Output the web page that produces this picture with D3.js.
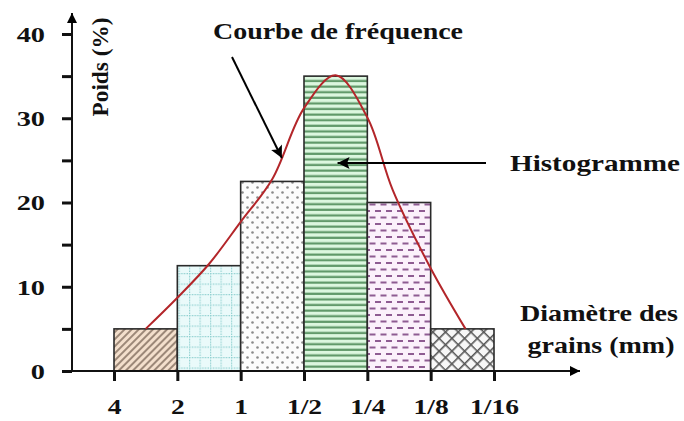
<!DOCTYPE html>
<html>
<head>
<meta charset="utf-8">
<script src="https://cdn.jsdelivr.net/npm/d3@7"></script>
<style>
  body { margin: 0; background: #fff; }
  svg text { font-family: "Liberation Serif", "DejaVu Serif", serif; font-weight: bold; fill: #111; }
</style>
</head>
<body>
<svg width="684" height="421"></svg>
<script>
// classes of grain size (tick labels) and weight % per class
var tickLabels = ["4", "2", "1", "1/2", "1/4", "1/8", "1/16"];
var barValues = [5, 12.5, 22.5, 35, 20, 5];
var barPatterns = ["hatch", "grid", "dots", "stripes", "dashes", "cross"];
var yTicks = [0, 5, 10, 15, 20, 25, 30, 35, 40];

// frequency curve points: position on the class axis, weight %
var curvePos = [0.5, 1.0, 1.5, 2.0, 2.5, 3.0, 3.5, 4.0, 4.4, 5.0, 5.55];
var curveVal = [5, 8.7, 12.7, 17.7, 22.8, 31.2, 35.1, 30.1, 21.5, 12.2, 5];

var svg = d3.select("svg");

var xScale = d3.scaleLinear()
    .domain([0, 6])
    .range([114, 494]);

var yScale = d3.scaleLinear()
    .domain([0, 40])
    .range([371, 34]);

var defs = svg.append("defs");

// patterns for the bars
var p;
p = defs.append("pattern").attr("id", "hatch").attr("patternUnits", "userSpaceOnUse")
    .attr("width", 5).attr("height", 5).attr("patternTransform", "rotate(45)");
p.append("rect").attr("width", 5).attr("height", 5).attr("fill", "#f3dfcc");
p.append("rect").attr("width", 2).attr("height", 5).attr("fill", "#9c8878");

p = defs.append("pattern").attr("id", "grid").attr("patternUnits", "userSpaceOnUse")
    .attr("width", 10.5).attr("height", 10.5);
p.append("rect").attr("width", 10.5).attr("height", 10.5).attr("fill", "#eafafa");
p.append("path").attr("d", "M0,0.5H10.5M0.5,0V10.5")
    .attr("stroke", "#8fd0d0").attr("stroke-width", 1.3).attr("stroke-dasharray", "1.5,1.2");

p = defs.append("pattern").attr("id", "dots").attr("patternUnits", "userSpaceOnUse")
    .attr("width", 10).attr("height", 10);
p.append("rect").attr("width", 10).attr("height", 10).attr("fill", "#fcfcfc");
p.append("circle").attr("cx", 2.5).attr("cy", 2.5).attr("r", 1.3).attr("fill", "#8a8a8a");
p.append("circle").attr("cx", 7.5).attr("cy", 7.5).attr("r", 1.3).attr("fill", "#8a8a8a");

p = defs.append("pattern").attr("id", "stripes").attr("patternUnits", "userSpaceOnUse")
    .attr("width", 6).attr("height", 5.6);
p.append("rect").attr("width", 6).attr("height", 5.6).attr("fill", "#dcf7df");
p.append("rect").attr("y", 1.5).attr("width", 6).attr("height", 2.2).attr("fill", "#5f9868");

p = defs.append("pattern").attr("id", "dashes").attr("patternUnits", "userSpaceOnUse")
    .attr("width", 11).attr("height", 13);
p.append("rect").attr("width", 11).attr("height", 13).attr("fill", "#fbf1fb");
p.append("rect").attr("x", 1).attr("y", 2).attr("width", 6).attr("height", 2).attr("fill", "#8e5c92");
p.append("rect").attr("x", 6.5).attr("y", 8.5).attr("width", 6).attr("height", 2).attr("fill", "#8e5c92");
p.append("rect").attr("x", -4.5).attr("y", 8.5).attr("width", 6).attr("height", 2).attr("fill", "#8e5c92");

p = defs.append("pattern").attr("id", "cross").attr("patternUnits", "userSpaceOnUse")
    .attr("width", 9).attr("height", 9).attr("patternTransform", "rotate(45)");
p.append("rect").attr("width", 9).attr("height", 9).attr("fill", "#f7f7f7");
p.append("path").attr("d", "M0,0.8H9M0.8,0V9").attr("stroke", "#555").attr("stroke-width", 1.6);

// arrow heads
defs.append("marker").attr("id", "arrow").attr("viewBox", "0 0 10 10")
    .attr("refX", 10).attr("refY", 5).attr("markerWidth", 10).attr("markerHeight", 10)
    .attr("markerUnits", "userSpaceOnUse").attr("orient", "auto")
    .append("path").attr("d", "M0,0L10,5L0,10Z").attr("fill", "#000");
defs.append("marker").attr("id", "arrowBig").attr("viewBox", "0 0 10 10")
    .attr("refX", 10).attr("refY", 5).attr("markerWidth", 14).attr("markerHeight", 12)
    .attr("markerUnits", "userSpaceOnUse").attr("orient", "auto")
    .append("path").attr("d", "M0,0L10,5L0,10L2,5Z").attr("fill", "#000");

// bars
svg.selectAll("rect.bar")
    .data(barValues)
    .enter()
    .append("rect")
    .attr("class", "bar")
    .attr("x", function(d, i) { return xScale(i); })
    .attr("y", function(d) { return yScale(d); })
    .attr("width", function(d, i) { return xScale(i + 1) - xScale(i); })
    .attr("height", function(d) { return yScale(0) - yScale(d); })
    .attr("fill", function(d, i) { return "url(#" + barPatterns[i] + ")"; })
    .attr("stroke", "#2a2a2a")
    .attr("stroke-width", 1.6);

// frequency curve
var curveData = curvePos.map(function(d, i) { return [d, curveVal[i]]; });
var line = d3.line()
    .x(function(d) { return xScale(d[0]); })
    .y(function(d) { return yScale(d[1]); })
    .curve(d3.curveCatmullRom.alpha(0.5));
svg.append("path")
    .datum(curveData)
    .attr("d", line)
    .attr("fill", "none")
    .attr("stroke", "#b3262a")
    .attr("stroke-width", 2);

// y axis
var yStretch = 1.35;
var yAxis = d3.axisLeft(yScale)
    .tickValues(yTicks)
    .tickSize(10)
    .tickPadding(17)
    .tickFormat(function(d) { return d % 10 == 0 ? d : ""; });
var gy = svg.append("g").attr("transform", "translate(72,0)").call(yAxis);
gy.select(".domain").remove();
gy.selectAll(".tick line").attr("stroke", "#111").attr("stroke-width", 3);
gy.selectAll(".tick text")
    .style("font-size", "21px")
    .attr("dy", "0.35em")
    .attr("x", -27 / yStretch)
    .attr("transform", "scale(" + yStretch + ",1)");

svg.append("line")
    .attr("x1", 72).attr("y1", yScale(0) + 1)
    .attr("x2", 72).attr("y2", 13)
    .attr("stroke", "#111").attr("stroke-width", 2)
    .attr("marker-end", "url(#arrow)");

// x axis
var xAxis = d3.axisBottom(xScale)
    .tickValues(d3.range(tickLabels.length))
    .tickSize(10)
    .tickPadding(17)
    .tickFormat(function(d) { return tickLabels[d]; });
var gx = svg.append("g").attr("transform", "translate(0," + yScale(0) + ")").call(xAxis);
gx.select(".domain").remove();
gx.selectAll(".tick line").attr("stroke", "#111").attr("stroke-width", 3);
gx.selectAll(".tick text")
    .style("font-size", "22px")
    .attr("transform", "scale(1.25,1)");

svg.append("line")
    .attr("x1", 71).attr("y1", yScale(0))
    .attr("x2", 580).attr("y2", yScale(0))
    .attr("stroke", "#111").attr("stroke-width", 2)
    .attr("marker-end", "url(#arrow)");

// text labels, fitted to the width they take in the picture
function label(txt, x, y, size, len, rot) {
    svg.append("text")
        .attr("transform", "translate(" + x + "," + y + ")" + (rot ? " rotate(" + rot + ")" : ""))
        .attr("text-anchor", "middle")
        .attr("textLength", len)
        .attr("lengthAdjust", "spacingAndGlyphs")
        .style("font-size", size + "px")
        .text(txt);
}

label("Poids (%)", 108, 67, 23, 99, -90);
label("Diamètre des", 599, 321, 23, 158);
label("grains (mm)", 601, 353, 23, 147);

// annotations
label("Courbe de fréquence", 338, 39, 24, 250);
svg.append("line")
    .attr("x1", 232).attr("y1", 57)
    .attr("x2", xScale(2.65)).attr("y2", 158)
    .attr("stroke", "#000").attr("stroke-width", 2)
    .attr("marker-end", "url(#arrowBig)");

label("Histogramme", 595, 171, 24, 170);
svg.append("line")
    .attr("x1", 486).attr("y1", 163)
    .attr("x2", xScale(3.53)).attr("y2", 163)
    .attr("stroke", "#000").attr("stroke-width", 2)
    .attr("marker-end", "url(#arrowBig)");
</script>
</body>
</html>
